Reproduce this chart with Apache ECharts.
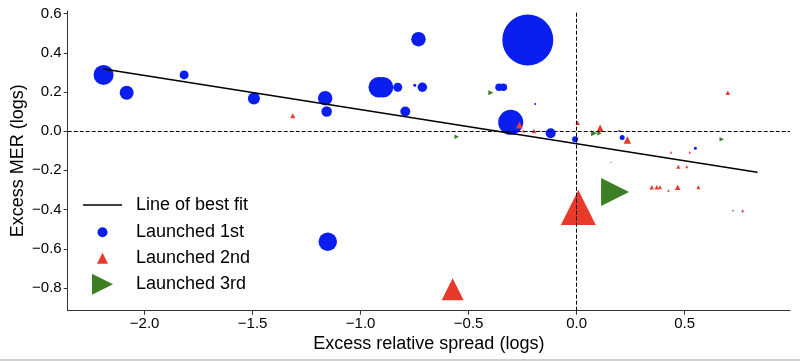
<!DOCTYPE html>
<html><head><meta charset="utf-8">
<script src="https://cdn.jsdelivr.net/npm/echarts@6/dist/echarts.min.js"></script>
<style>html,body{margin:0;padding:0;background:#fff}#c{width:800px;height:361px}</style>
</head><body><div id="c"></div>
<script>
// Launched 1st (blue circles): x, y, marker diameter
const blueX = [-2.19, -2.083, -1.817, -1.494, -1.164, -1.157, -0.732, -0.916, -0.896, -0.828, -0.749, -0.714, -0.793, -0.226, -0.359, -0.339, -0.192, -0.305, -0.120, -0.007, 0.211, 0.198, 0.550, -1.152];
const blueY = [0.287, 0.196, 0.287, 0.166, 0.168, 0.100, 0.469, 0.224, 0.224, 0.224, 0.234, 0.224, 0.100, 0.465, 0.224, 0.224, 0.139, 0.045, -0.011, -0.041, -0.033, 0.001, -0.087, -0.564];
const blueSize = [20, 14, 9, 12, 14.5, 10.5, 14.5, 20.5, 20.5, 9, 3, 9.5, 10, 51, 7.5, 7.5, 2, 25, 10, 6, 5, 2, 3, 18.5];
// Launched 2nd (red triangles)
const redX = [-1.314, -0.265, -0.246, -0.197, 0.005, 0.109, 0.235, 0.700, 0.437, 0.524, 0.471, 0.510, 0.836, 0.160, 0.008, 0.348, 0.371, 0.386, 0.468, 0.564, 0.425, 0.769, -0.574];
const redY = [0.079, 0.032, 0.001, 0.001, 0.043, 0.015, -0.045, 0.196, -0.108, -0.108, -0.181, -0.181, -0.210, -0.159, -0.389, -0.286, -0.286, -0.286, -0.286, -0.286, -0.303, -0.406, -0.806];
const redSize = [5, 7, 3, 4.5, 4.5, 7.5, 7.5, 4.5, 2.5, 2.5, 4, 3, 2, 1.5, 35, 4.5, 4.5, 4, 5.5, 4, 2.5, 3, 22];
// Launched 3rd (green right triangles)
const greenX = [-0.397, -0.555, 0.081, 0.106, 0.672, 0.178, 0.726, -0.17];
const greenY = [0.196, -0.028, -0.011, -0.011, -0.041, -0.310, -0.406, 0.0];
const greenSize = [5, 4.5, 6, 4.5, 4.5, 28, 2, 2];
// Line of best fit endpoints
const fitX = [-2.19, 0.836];
const fitY = [0.317, -0.210];
// Tick values
const xTicks = [-2.0, -1.5, -1.0, -0.5, 0.0, 0.5];
const yTicks = [-0.8, -0.6, -0.4, -0.2, 0.0, 0.2, 0.4, 0.6];

const FONT = 'Liberation Sans';
const AXC = '#333';
function pts(xs, ys, ss) { return xs.map((x, i) => ss ? [x, ys[i], ss[i]] : [x, ys[i]]); }
const fmt = v => (Math.abs(v) < 1e-9 ? 0 : v).toFixed(1).replace('-', '\u2212');

// legend layout helper: icon centred at iconCx, text starting at textX
function legendItem(item, size, w, centerY, iconCx, textX) {
  const left = iconCx - w / 2;
  const pad = textX - left - w - 5;
  return {
    orient: 'vertical', left: left, top: centerY - 11, padding: 0, selectedMode: false,
    itemWidth: w, itemHeight: size, symbolKeepAspect: true,
    textStyle: {fontFamily: FONT, fontSize: 18, color: '#000', lineHeight: 22, padding: [0, 0, 0, pad]},
    data: [item]
  };
}

const chart = echarts.init(document.getElementById('c'), null, {renderer: 'canvas'});
chart.setOption({
  animation: false,
  backgroundColor: '#fff',
  grid: {left: 67.7, right: 10, top: 11, bottom: 50.3, containLabel: false, outerBoundsMode: 'none'},
  xAxis: {
    type: 'value', min: -2.356, max: 0.988,
    name: 'Excess relative spread (logs)', nameLocation: 'middle', nameGap: 24, nameMoveOverlap: false,
    nameTextStyle: {fontFamily: FONT, fontSize: 18, color: '#000'},
    axisLine: {show: true, onZero: false, lineStyle: {color: AXC, width: 1}},
    axisTick: {show: true, length: 4, lineStyle: {color: AXC}, customValues: xTicks},
    axisLabel: {fontFamily: FONT, fontSize: 15, color: '#000', margin: 6, formatter: fmt, customValues: xTicks},
    splitLine: {show: false}
  },
  yAxis: {
    type: 'value', min: -0.916, max: 0.613,
    name: 'Excess MER (logs)', nameLocation: 'middle', nameGap: 41, nameMoveOverlap: false,
    nameTextStyle: {fontFamily: FONT, fontSize: 18, color: '#000'},
    axisLine: {show: true, onZero: false, lineStyle: {color: AXC, width: 1}},
    axisTick: {show: true, length: 4, lineStyle: {color: AXC}, customValues: yTicks},
    axisLabel: {fontFamily: FONT, fontSize: 15, color: '#000', margin: 6, formatter: fmt, customValues: yTicks},
    splitLine: {show: false}
  },
  legend: [
    legendItem({name: 'Line of best fit', icon: 'path://M0,0H40V1.5H0Z'}, 1.5, 39, 205, 102.5, 136),
    legendItem({name: 'Launched 1st', icon: 'circle'}, 10, 10, 232.3, 102.5, 136),
    legendItem({name: 'Launched 2nd', icon: 'triangle'}, 11, 11, 258.3, 102.5, 136),
    legendItem({name: 'Launched 3rd', icon: 'path://M0,0L2,1L0,2Z'}, 21, 21, 284.3, 102.5, 136)
  ],
  series: [
    {name: 'Launched 1st', type: 'scatter', data: pts(blueX, blueY, blueSize), symbol: 'circle',
     symbolSize: v => v[2], itemStyle: {color: '#0a1ef0', opacity: 1}, z: 2},
    {name: 'Launched 2nd', type: 'scatter', data: pts(redX, redY, redSize), symbol: 'triangle',
     symbolSize: v => v[2], itemStyle: {color: '#e8392b', opacity: 1}, z: 3},
    {name: 'Launched 3rd', type: 'scatter', data: pts(greenX, greenY, greenSize), symbol: 'path://M0,0L2,1L0,2Z',
     symbolSize: v => v[2], itemStyle: {color: '#3d7f25', opacity: 1}, z: 4},
    {name: 'Line of best fit', type: 'line', data: pts(fitX, fitY), symbol: 'none', showSymbol: false, z: 5,
     lineStyle: {color: '#000', width: 1.5}, itemStyle: {color: '#000'},
     markLine: {silent: true, symbol: 'none', label: {show: false},
       lineStyle: {color: '#000', width: 1, type: [4, 2]},
       data: [{xAxis: 0}, {yAxis: 0}]}}
  ],
  graphic: [{type: 'rect', shape: {x: 0, y: 359, width: 800, height: 2}, style: {fill: '#d0d0d0'}, silent: true}]
});
</script></body></html>
